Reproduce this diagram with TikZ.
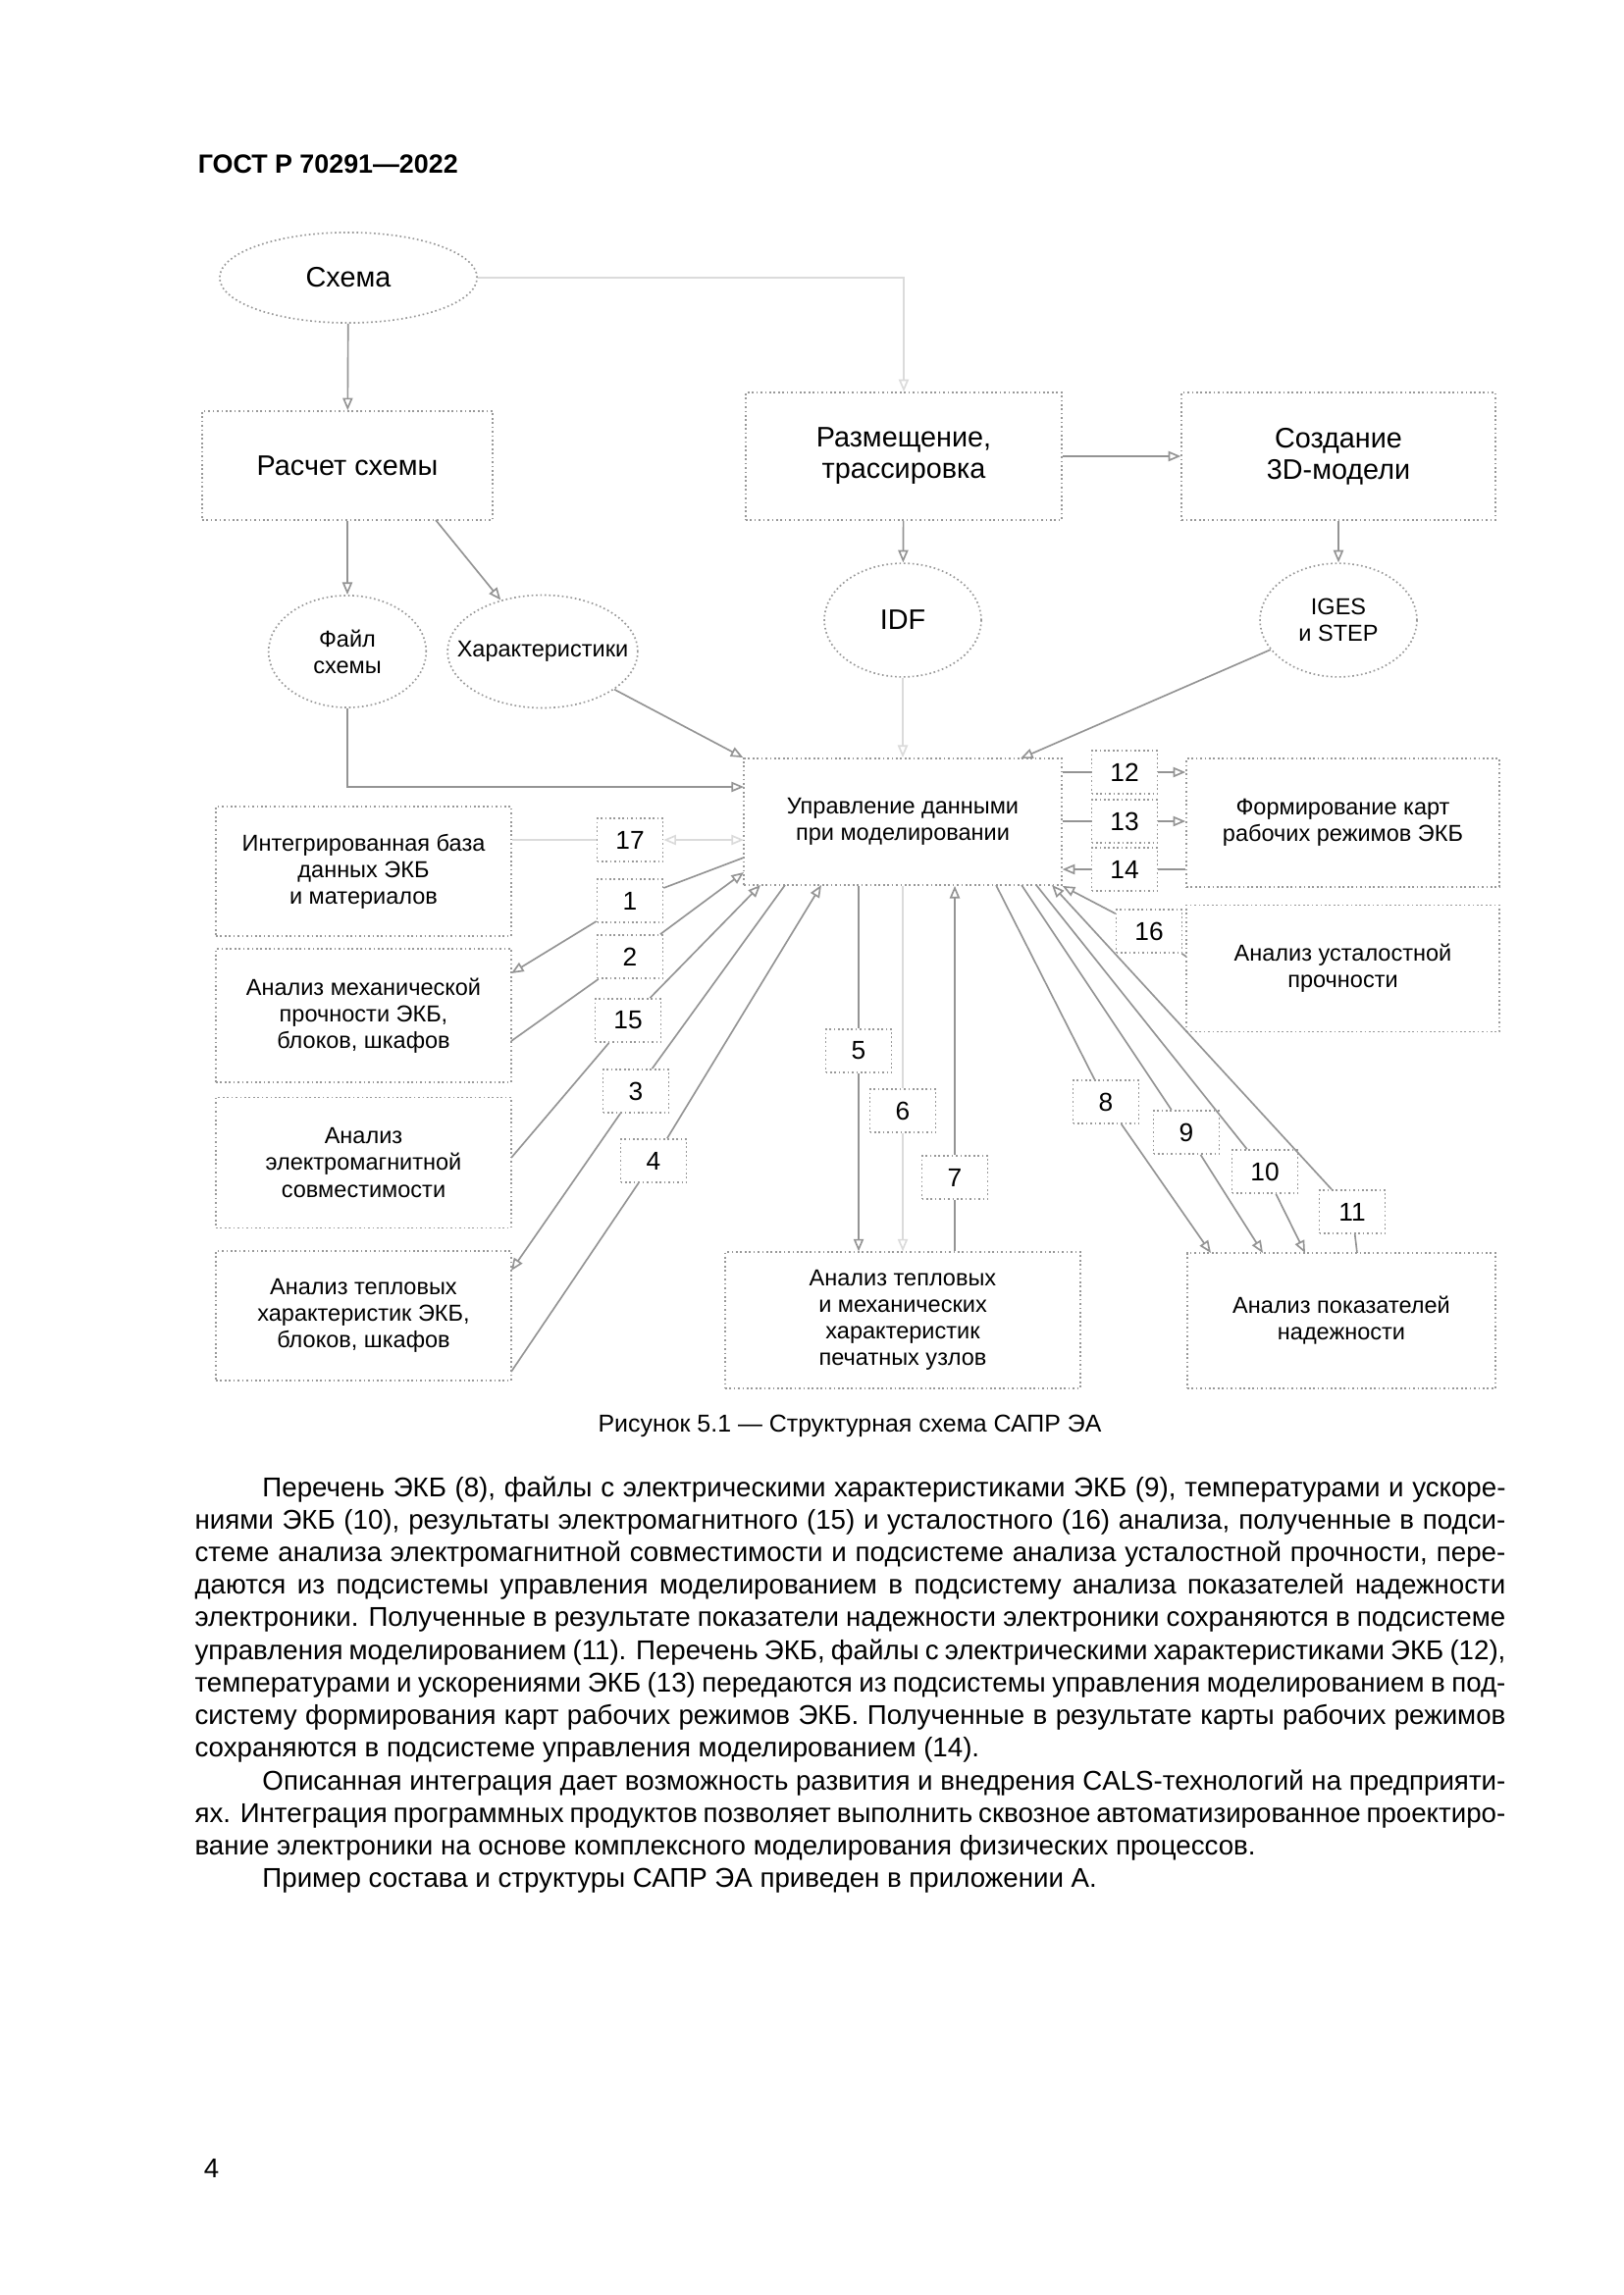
\documentclass[tikz,border=0pt]{standalone}
\usepackage{fontspec}
\setmainfont{Liberation Sans}
\usetikzlibrary{shapes.geometric,arrows.meta}

\newcommand{\bigtxt}{\fontsize{10.4}{11.6}\selectfont}
\newcommand{\smalltxt}{\fontsize{8.5}{9.8}\selectfont}
\newcommand{\numtxt}{\fontsize{9.5}{11}\selectfont}
\newcommand{\bodytxt}{\fontsize{10}{12}\selectfont}
\newcommand{\captxt}{\fontsize{9}{11}\selectfont}
\newcommand{\fullline}[1]{\makebox[169.6mm][s]{#1}}

\begin{document}
\begin{tikzpicture}[x=0.12697mm, y=-0.12697mm,
  >={Triangle[open, length=1.6mm, width=1.3mm]},
  box/.style={rectangle, draw=black!40, densely dotted, line width=0.6pt, inner sep=1pt, align=center, font=\smalltxt},
  oval/.style={ellipse, draw=black!40, densely dotted, line width=0.6pt, inner sep=0pt, align=center, font=\smalltxt},
  num/.style={rectangle, draw=black!40, densely dotted, line width=0.6pt, fill=white, inner sep=0pt, minimum width=8.5mm, minimum height=5.6mm, font=\numtxt},
  arr/.style={->, draw=black!42, line width=0.6pt},
  faint/.style={draw=black!14}]
\fill[white] (0,0) rectangle (1654,2339);
\useasboundingbox (0,0) rectangle (1654,2339);

\node[anchor=base west, font=\bfseries\fontsize{9.7}{12}\selectfont] (gost) at (192,177) {ГОСТ Р 70291—2022};

% upper part
\node[oval, font=\bigtxt, minimum width=33.3mm, minimum height=11.7mm] (sxema) at (355,283) {Схема};
\node[box, font=\bigtxt, minimum width=37.6mm, minimum height=14.1mm] (rasch) at (354,474.5) {Расчет схемы};
\node[box, font=\bigtxt, minimum width=40.9mm, minimum height=16.5mm] (razm) at (921,465) {Размещение,\\трассировка};
\node[box, font=\bigtxt, minimum width=40.6mm, minimum height=16.5mm] (sozd) at (1364,465) {Создание\\3D-модели};
\node[oval, minimum width=20.4mm, minimum height=14.5mm] (fajl) at (354,664) {Файл\\схемы};
\node[oval, minimum width=24.6mm, minimum height=14.6mm] (xar) at (553,664) {\makebox[0pt]{Характеристики}};
\node[oval, font=\bigtxt, minimum width=20.3mm, minimum height=14.7mm] (idf) at (920,632) {IDF};
\node[oval, minimum width=20.3mm, minimum height=14.7mm] (iges) at (1364,632) {IGES\\и STEP};

% subsystems
\node[box, minimum width=41.1mm, minimum height=16.4mm] (upr) at (920,837.5) {Управление данными\\при моделировании};
\node[box, minimum width=40.5mm, minimum height=16.6mm] (form) at (1368.5,838.5) {Формирование карт\\рабочих режимов ЭКБ};
\node[box, minimum width=40.5mm, minimum height=16.4mm] (ustal) at (1368.5,987) {Анализ усталостной\\прочности};
\node[box, minimum width=38.2mm, minimum height=16.8mm] (integ) at (370.5,888) {Интегрированная база\\данных ЭКБ\\и материалов};
\node[box, minimum width=38.2mm, minimum height=17.3mm] (mech) at (370.5,1035) {Анализ механической\\прочности ЭКБ,\\блоков, шкафов};
\node[box, minimum width=38.2mm, minimum height=16.9mm] (elmag) at (370.5,1185) {Анализ\\электромагнитной\\совместимости};
\node[box, minimum width=38.2mm, minimum height=16.8mm] (tepl) at (370.5,1341) {Анализ тепловых\\характеристик ЭКБ,\\блоков, шкафов};
\node[box, minimum width=46.0mm, minimum height=17.6mm] (pechat) at (920,1345.5) {Анализ тепловых\\и механических\\характеристик\\печатных узлов};
\node[box, minimum width=39.9mm, minimum height=17.5mm] (nadezh) at (1367,1346) {Анализ показателей\\надежности};

% flow numbers
\node[num] (n17) at (642,856) {17};
\node[num] (n1) at (642,918) {1};
\node[num] (n2) at (642,975) {2};
\node[num] (n15) at (640,1040) {15};
\node[num] (n3) at (648,1112) {3};
\node[num] (n4) at (666,1183) {4};
\node[num] (n5) at (875,1071) {5};
\node[num] (n6) at (920,1132) {6};
\node[num] (n7) at (973,1200) {7};
\node[num] (n8) at (1127,1123) {8};
\node[num] (n9) at (1209,1154) {9};
\node[num] (n10) at (1289,1194) {10};
\node[num] (n11) at (1378,1235) {11};
\node[num] (n12) at (1146,787) {12};
\node[num] (n13) at (1146,837) {13};
\node[num] (n14) at (1146,886) {14};
\node[num] (n16) at (1171,949) {16};

\coordinate (r1) at (444,530);
\coordinate (uI) at (1040,773);
\coordinate (u0) at (758,802);
\coordinate (u17) at (758,856);
\coordinate (u1) at (758,874);
\coordinate (u2) at (758,889);
\coordinate (u15) at (775,902);
\coordinate (u3) at (800,902);
\coordinate (u4) at (837,902);
\coordinate (u8) at (1015,902);
\coordinate (u9) at (1041,902);
\coordinate (u10) at (1056,902);
\coordinate (u11) at (1072,902);
\coordinate (m1) at (521,992);
\coordinate (m2) at (521,1061);
\coordinate (e15) at (521,1180);
\coordinate (t3) at (521,1295);
\coordinate (t4) at (521,1398);
\coordinate (s16) at (1209,975);
\coordinate (d8) at (1234,1277);
\coordinate (d9) at (1287,1277);
\coordinate (d10) at (1330,1277);
\coordinate (d11) at (1383,1277);

\draw[arr] (sxema)--(rasch);
\draw[arr] (rasch)--(fajl);
\draw[arr] (r1)--(xar);
\draw[arr] (fajl)|-(u0);
\draw[arr] (xar)--(upr.north west);
\draw[arr, faint] (sxema)-|(razm);
\draw[arr] (razm)--(sozd);
\draw[arr] (razm)--(idf);
\draw[arr] (sozd)--(iges);
\draw[arr, faint] (idf)--(upr);
\draw[arr] (iges)--(uI);

\draw[arr, faint, <->] (integ.east |- n17)--(n17)--(u17);
\draw[arr] (u1)--(n1)--(m1);
\draw[arr] (m2)--(n2)--(u2);
\draw[arr] (e15)--(n15)--(u15);
\draw[arr] (u3)--(n3)--(t3);
\draw[arr] (t4)--(n4)--(u4);

\draw[arr] (upr.south -| n5)--(n5)--(pechat.north -| n5);
\draw[arr, faint] (upr.south -| n6)--(n6)--(pechat.north -| n6);
\draw[arr] (pechat.north -| n7)--(n7)--(upr.south -| n7);

\draw[arr] (u8)--(n8)--(d8);
\draw[arr] (u9)--(n9)--(d9);
\draw[arr] (u10)--(n10)--(d10);
\draw[arr] (d11)--(n11)--(u11);

\draw[arr] (upr.east |- n12)--(n12)--(form.west |- n12);
\draw[arr] (upr.east |- n13)--(n13)--(form.west |- n13);
\draw[arr] (form.west |- n14)--(n14)--(upr.east |- n14);
\draw[arr] (s16)--(n16)--(upr.south east);

\node[anchor=base, font=\captxt] (cap) at (866,1459) {Рисунок 5.1 — Структурная схема САПР ЭА};

\node[anchor=north west, align=left, inner sep=0pt, font=\bodytxt] (body) at (198,1504) {%
\fullline{\hspace*{8.75mm}Перечень ЭКБ (8), файлы с электрическими характеристиками ЭКБ (9), температурами и ускоре-}\\
\fullline{ниями ЭКБ (10), результаты электромагнитного (15) и усталостного (16) анализа, полученные в подси-}\\
\fullline{стеме анализа электромагнитной совместимости и подсистеме анализа усталостной прочности, пере-}\\
\fullline{даются из подсистемы управления моделированием в подсистему анализа показателей надежности}\\
\fullline{электроники. Полученные в результате показатели надежности электроники сохраняются в подсистеме}\\
\fullline{управления моделированием (11). Перечень ЭКБ, файлы с электрическими характеристиками ЭКБ (12),}\\
\fullline{температурами и ускорениями ЭКБ (13) передаются из подсистемы управления моделированием в под-}\\
\fullline{систему формирования карт рабочих режимов ЭКБ. Полученные в результате карты рабочих режимов}\\
сохраняются в подсистеме управления моделированием (14).\\
\fullline{\hspace*{8.75mm}Описанная интеграция дает возможность развития и внедрения CALS-технологий на предприяти-}\\
\fullline{ях. Интеграция программных продуктов позволяет выполнить сквозное автоматизированное проектиро-}\\
вание электроники на основе комплексного моделирования физических процессов.\\
\hspace*{8.75mm}Пример состава и структуры САПР ЭА приведен в приложении А.};

\node[anchor=base west, font=\bodytxt] (page) at (198,2219) {4};
\end{tikzpicture}
\end{document}
